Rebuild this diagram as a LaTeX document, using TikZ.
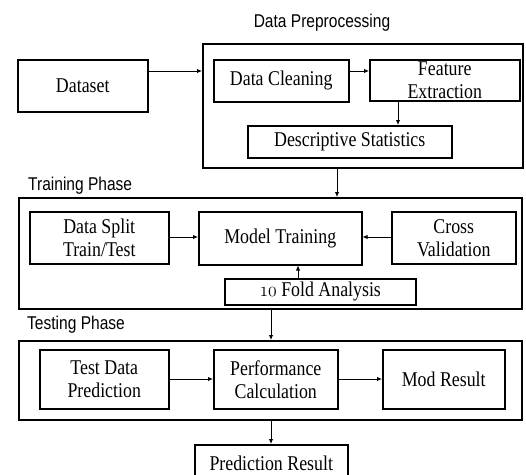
\documentclass[tikz,border=0pt]{standalone}
\usepackage{fontspec}
\newfontfamily\headfont{Liberation Sans}[FakeStretch=0.84]
\newfontfamily\boxfont{Liberation Serif}[FakeStretch=0.85]
\usetikzlibrary{arrows.meta,calc}

\tikzset{
  box/.style={draw, line width=1.5pt, align=center, inner sep=0pt, anchor=north west,
              font=\boxfont\fontsize{21}{23}\selectfont},
  frame/.style={draw, line width=1.5pt, inner sep=0pt, anchor=north west},
  phase/.style={font=\headfont\fontsize{18.5}{20}\selectfont, inner sep=0pt},
  arr/.style={-{Latex[length=5pt,width=4.5pt]}, line width=0.9pt},
}
% old-style figures, narrowed like the rest of the box text
\newcommand\osnum[1]{\scalebox{0.85}[1]{$\mathnormal{#1}$}}

\begin{document}
\begin{tikzpicture}[x=1pt,y=1pt]
  \clip (0,0) rectangle (526,-474);
  \fill[white] (0,0) rectangle (526,-474);

  % Data preprocessing stage
  \node[phase] (tpre) at (322,-23) {Data Preprocessing};
  \node[frame, minimum width=320, minimum height=124] (pre) at (202,-43) {};
  \node[box, minimum width=130, minimum height=52] (ds) at (17,-59) {Dataset};
  \node[box, minimum width=135, minimum height=42] (dc) at (213,-59) {Data Cleaning};
  \node[box, minimum width=150, minimum height=41] (fe) at (369,-59) {Feature\\Extraction};
  \node[box, minimum width=204, minimum height=32] (dst) at (247,-125) {Descriptive Statistics};

  % Training stage
  \node[phase, anchor=west] (ttr) at (28,-186) {Training Phase};
  \node[frame, minimum width=503, minimum height=111] (tr) at (18,-197) {};
  \node[box, minimum width=139, minimum height=52] (sp) at (29,-211) {Data Split\\Train/Test};
  \node[box, minimum width=163, minimum height=53] (mt) at (198,-211) {Model Training};
  \node[box, minimum width=124, minimum height=52] (cv) at (391,-211) {Cross\\Validation};
  \node[box, minimum width=191, minimum height=26] (tf) at (224,-278) {\osnum{10} Fold Analysis};

  % Testing stage
  \node[phase, anchor=west] (tte) at (27,-325) {Testing Phase};
  \node[frame, minimum width=503, minimum height=79] (te) at (18,-340) {};
  \node[box, minimum width=129, minimum height=59] (tdp) at (39,-349) {Test Data\\Prediction};
  \node[box, minimum width=124, minimum height=59] (pc) at (213,-349) {Performance\\Calculation};
  \node[box, minimum width=122, minimum height=59] (mr) at (382,-349) {Mod Result};
  \node[box, minimum width=153, minimum height=38] (pr) at (194,-444) {Prediction Result};

  % Connectors
  \draw[arr] (ds.east |- 0,-71) -- (pre.west |- 0,-71);
  \draw[arr] (dc.east |- 0,-71) -- (fe.west |- 0,-71);
  \draw[arr] (fe.south -| 398,0) -- (dst.north -| 398,0);
  \draw[arr] (pre.south -| 337,0) -- (tr.north -| 337,0);
  \draw[arr] (sp.east |- 0,-237) -- (mt.west |- 0,-237);
  \draw[arr] (cv.west |- 0,-237) -- (mt.east |- 0,-237);
  \draw[arr] (tf.north -| 298,0) -- (mt.south -| 298,0);
  \draw[arr] (tr.south -| 271,0) -- (te.north -| 271,0);
  \draw[arr] (tdp.east |- 0,-379) -- (pc.west |- 0,-379);
  \draw[arr] (pc.east |- 0,-379) -- (mr.west |- 0,-379);
  \draw[arr] (te.south -| 271,0) -- (pr.north -| 271,0);
\end{tikzpicture}
\end{document}
